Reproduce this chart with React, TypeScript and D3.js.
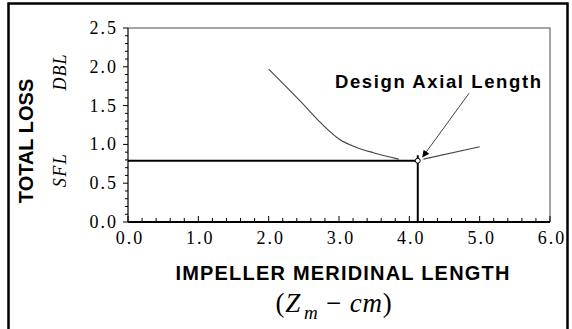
import { useRef, useEffect } from "react";
import * as d3 from "d3";

// loss curve (gray)
const curveX = [2.0, 2.5, 2.75, 3.0, 3.25, 3.5, 3.85];
const curveY = [1.97, 1.51, 1.27, 1.07, 0.96, 0.89, 0.81];
// right branch after design point
const branchX = [4.2, 5.0];
const branchY = [0.81, 0.97];
// design point
const designX = 4.12;
const designY = 0.79;
const designTop = 0.86;
// annotation arrow (tail, head) in data units
const arrowX = [4.85, 4.19];
const arrowY = [1.66, 0.84];
const annotation = "Design Axial Length";

const xTicks = [0, 1, 2, 3, 4, 5, 6];
const yTicks = [0, 0.5, 1.0, 1.5, 2.0, 2.5];

export default function App() {
  const svgRef = useRef<SVGSVGElement>(null);

  useEffect(() => {
    if (!svgRef.current) return;
    const svg = d3.select(svgRef.current);
    svg.selectAll("*").remove();

    const x = d3.scaleLinear().domain([0, 6]).range([128, 550]);
    const y = d3.scaleLinear().domain([0, 2.5]).range([222, 28]);

    const defs = svg.append("defs");
    defs.append("marker").attr("id", "ah").attr("viewBox", "0 0 10 10")
      .attr("refX", 9).attr("refY", 5).attr("markerWidth", 9).attr("markerHeight", 7)
      .attr("markerUnits", "userSpaceOnUse").attr("orient", "auto")
      .append("path").attr("d", "M0,0L10,5L0,10z").attr("fill", "#000");

    // outer frame
    svg.append("rect").attr("x", 8.5).attr("y", 3.5).attr("width", 559).attr("height", 340)
      .attr("fill", "none").attr("stroke", "#000").attr("stroke-width", 2.5);

    // top / right frame of plot
    svg.append("path")
      .attr("d", `M${x(0)},${y(2.5)}H${x(6)}V${y(0)}`)
      .attr("fill", "none").attr("stroke", "#888").attr("stroke-width", 1.5);

    // y axis
    const minorY = d3.range(0, 2.51, 0.1);
    svg.append("g").selectAll("line").data(minorY).enter().append("line")
      .attr("x1", x(0)).attr("x2", d => x(0) - (Math.abs(d * 2 - Math.round(d * 2)) < 1e-6 ? 5 : 3))
      .attr("y1", d => y(d)).attr("y2", d => y(d)).attr("stroke", "#000").attr("stroke-width", 1);
    svg.append("line").attr("x1", x(0)).attr("x2", x(0)).attr("y1", y(0)).attr("y2", y(2.5))
      .attr("stroke", "#000").attr("stroke-width", 1.2);
    svg.append("g").selectAll("text").data(yTicks).enter().append("text")
      .attr("x", x(0) - 10).attr("y", d => y(d) + 6).attr("text-anchor", "end")
      .attr("font-family", "Liberation Serif, serif").attr("font-size", 18).attr("letter-spacing", 2)
      .text(d => d.toFixed(1));

    // x axis
    const minorX = d3.range(0, 6.01, 0.2);
    svg.append("g").selectAll("line").data(minorX).enter().append("line")
      .attr("x1", d => x(d)).attr("x2", d => x(d)).attr("y1", y(0))
      .attr("y2", d => y(0) - (Math.abs(d - Math.round(d)) < 1e-6 ? 6 : 4))
      .attr("stroke", "#000").attr("stroke-width", 1);
    svg.append("line").attr("x1", x(0)).attr("x2", x(6)).attr("y1", y(0)).attr("y2", y(0))
      .attr("stroke", "#000").attr("stroke-width", 2);
    svg.append("g").selectAll("text").data(xTicks).enter().append("text")
      .attr("x", d => x(d) + 2).attr("y", 244).attr("text-anchor", "middle")
      .attr("font-family", "Liberation Serif, serif").attr("font-size", 18).attr("letter-spacing", 2)
      .text(d => d.toFixed(1));

    // horizontal + vertical design lines
    svg.append("line").attr("x1", x(0)).attr("x2", x(designX)).attr("y1", y(designY)).attr("y2", y(designY))
      .attr("stroke", "#000").attr("stroke-width", 2);
    svg.append("line").attr("x1", x(designX)).attr("x2", x(designX)).attr("y1", y(0)).attr("y2", y(designTop))
      .attr("stroke", "#000").attr("stroke-width", 2);

    const line = d3.line<[number, number]>().x(d => x(d[0])).y(d => y(d[1])).curve(d3.curveMonotoneX);
    svg.append("path").attr("d", line(d3.zip(curveX, curveY) as [number, number][]))
      .attr("fill", "none").attr("stroke", "#444").attr("stroke-width", 1.1);
    svg.append("path").attr("d", line(d3.zip(branchX, branchY) as [number, number][]))
      .attr("fill", "none").attr("stroke", "#444").attr("stroke-width", 1.1);

    svg.append("circle").attr("cx", x(designX)).attr("cy", y(designY)).attr("r", 2.5)
      .attr("fill", "#fff").attr("stroke", "#000").attr("stroke-width", 1);

    // annotation
    svg.append("line").attr("x1", x(arrowX[0])).attr("y1", y(arrowY[0]))
      .attr("x2", x(arrowX[1])).attr("y2", y(arrowY[1]))
      .attr("stroke", "#444").attr("stroke-width", 1).attr("marker-end", "url(#ah)");
    svg.append("text").attr("x", 335).attr("y", 88)
      .attr("font-family", "Liberation Sans, Arial, sans-serif").attr("font-weight", "bold")
      .attr("font-size", 18.5).attr("letter-spacing", 1.6).text(annotation);

    // axis titles
    svg.append("text").attr("transform", "translate(33,141) rotate(-90)").attr("text-anchor", "middle")
      .attr("font-family", "Liberation Sans, Arial, sans-serif").attr("font-weight", "bold")
      .attr("font-size", 20).text("TOTAL LOSS");
    svg.append("text").attr("transform", "translate(66,72) rotate(-90)").attr("text-anchor", "middle")
      .attr("font-family", "Liberation Serif, serif").attr("font-style", "italic")
      .attr("font-size", 18).attr("letter-spacing", 1).text("DBL");
    svg.append("text").attr("transform", "translate(66,170) rotate(-90)").attr("text-anchor", "middle")
      .attr("font-family", "Liberation Serif, serif").attr("font-style", "italic")
      .attr("font-size", 18).attr("letter-spacing", 1.5).text("SFL");

    svg.append("text").attr("x", 343).attr("y", 280).attr("text-anchor", "middle")
      .attr("font-family", "Liberation Sans, Arial, sans-serif").attr("font-weight", "bold")
      .attr("font-size", 20).attr("letter-spacing", 1.2).text("IMPELLER MERIDINAL LENGTH");

    const sub = svg.append("text").attr("x", 334).attr("y", 312).attr("text-anchor", "middle")
      .attr("font-family", "Liberation Serif, serif").attr("font-size", 27).attr("letter-spacing", 0.8);
    sub.append("tspan").text("(");
    sub.append("tspan").attr("font-style", "italic").text("Z");
    sub.append("tspan").attr("font-style", "italic").attr("font-size", 19).attr("dy", 7).attr("dx", 3).text("m");
    sub.append("tspan").attr("dy", -7).text(" \u2212 ");
    sub.append("tspan").attr("font-style", "italic").text("cm");
    sub.append("tspan").text(")");
  }, []);

  return (
    <svg ref={svgRef} width={572} height={329}
      style={{ position: "absolute", left: 0, top: 0, background: "#fff" }} />
  );
}
